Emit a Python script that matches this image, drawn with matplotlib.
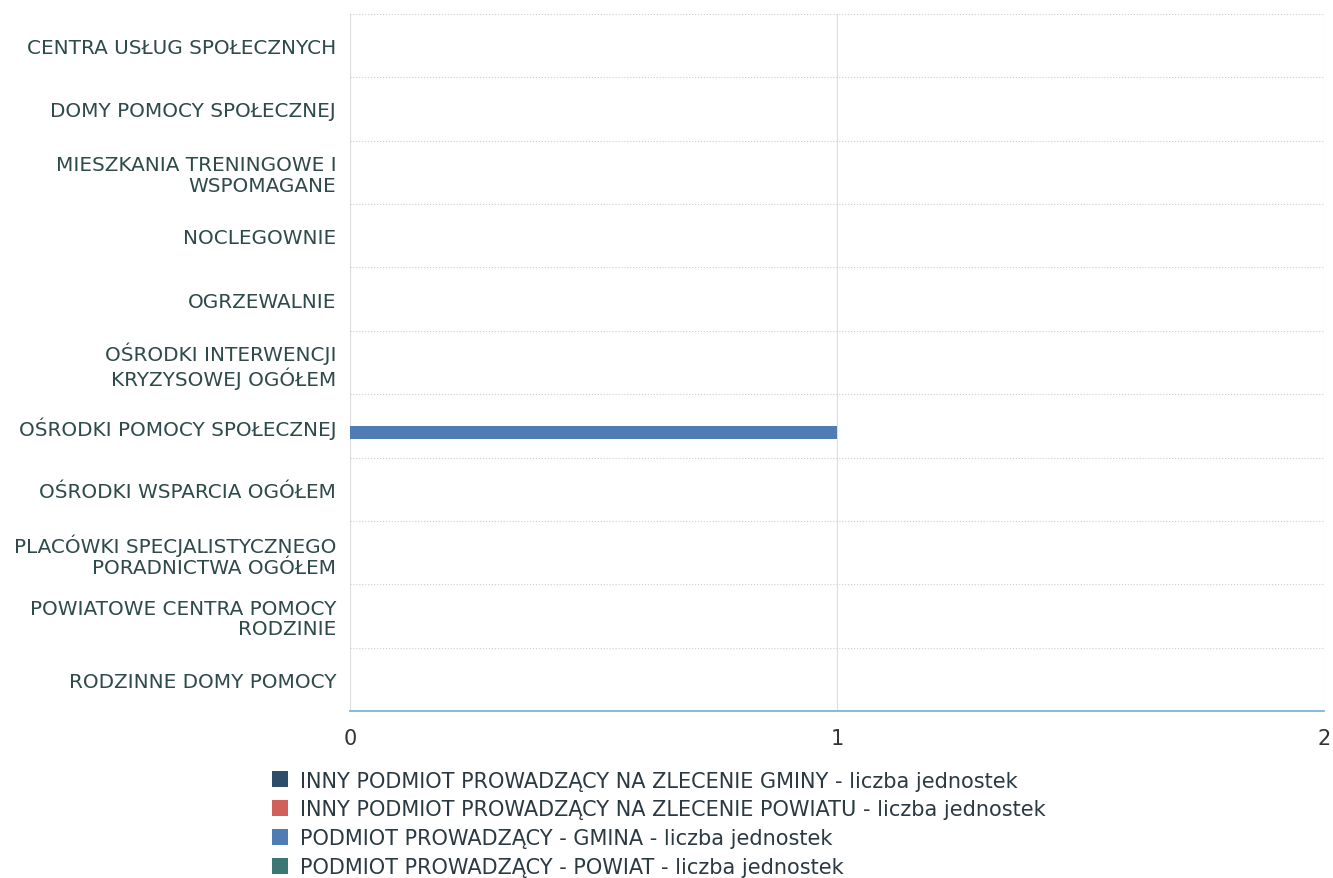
import matplotlib.pyplot as plt
import numpy as np
from matplotlib.patches import Patch

categories = ['CENTRA USŁUG SPOŁECZNYCH', 'DOMY POMOCY SPOŁECZNEJ',
              'MIESZKANIA TRENINGOWE I\nWSPOMAGANE', 'NOCLEGOWNIE', 'OGRZEWALNIE',
              'OŚRODKI INTERWENCJI\nKRYZYSOWEJ OGÓŁEM', 'OŚRODKI POMOCY SPOŁECZNEJ',
              'OŚRODKI WSPARCIA OGÓŁEM', 'PLACÓWKI SPECJALISTYCZNEGO\nPORADNICTWA OGÓŁEM',
              'POWIATOWE CENTRA POMOCY\nRODZINIE', 'RODZINNE DOMY POMOCY']
series_names = ['INNY PODMIOT PROWADZĄCY NA ZLECENIE GMINY - liczba jednostek',
                'INNY PODMIOT PROWADZĄCY NA ZLECENIE POWIATU - liczba jednostek',
                'PODMIOT PROWADZĄCY - GMINA - liczba jednostek',
                'PODMIOT PROWADZĄCY - POWIAT - liczba jednostek']
inny_gminy = [0, 0, 0, 0, 0, 0, 0, 0, 0, 0, 0]
inny_powiatu = [0, 0, 0, 0, 0, 0, 0, 0, 0, 0, 0]
gmina = [0, 0, 0, 0, 0, 0, 1, 0, 0, 0, 0]
powiat = [0, 0, 0, 0, 0, 0, 0, 0, 0, 0, 0]
colors = ['#2e4d6b', '#d0605a', '#4f7db3', '#3b7775']

fig = plt.figure(figsize=(13.33, 8.79), dpi=100)
ax = fig.add_axes([0.2626, 0.19, 0.731, 0.793])

n = len(categories)
y = np.arange(n)
bw = 0.2
for i, (vals, c) in enumerate(zip([inny_gminy, inny_powiatu, gmina, powiat], colors)):
    ax.barh(y - 0.3 + i * bw, vals, height=bw, color=c, zorder=3)

ax.set_ylim(n - 0.5, -0.5)
ax.set_xlim(0, 2)
ax.set_xticks([0, 1, 2])
ax.set_yticks(y)
ax.set_yticklabels(categories, fontsize=14.4, color='#2f4a4a', linespacing=1.1)
ax.tick_params(axis='y', length=0, pad=10)
ax.tick_params(axis='x', length=0, labelsize=15, colors='#333333', pad=12)

ax.set_yticks(np.arange(-0.5, n, 1), minor=True)
ax.grid(True, which='minor', axis='y', color='#cccccc', linestyle=':', linewidth=0.8)
ax.grid(True, which='major', axis='x', color='#dddddd', linestyle='-', linewidth=0.8)
ax.tick_params(axis='y', which='minor', length=0)

for s in ['top', 'right', 'left']:
    ax.spines[s].set_visible(False)
ax.spines['bottom'].set_color('#6fb0d0')
ax.spines['bottom'].set_linewidth(1.2)

handles = [Patch(facecolor=c, edgecolor='none') for c in colors]
fig.legend(handles, series_names, loc='upper left', bbox_to_anchor=(0.196, 0.134),
           frameon=False, fontsize=15, handlelength=0.8, handleheight=0.8,
           handletextpad=0.55, labelspacing=0.42, borderpad=0, labelcolor='#2b3a42')

fig.savefig('out.png', dpi=100)
